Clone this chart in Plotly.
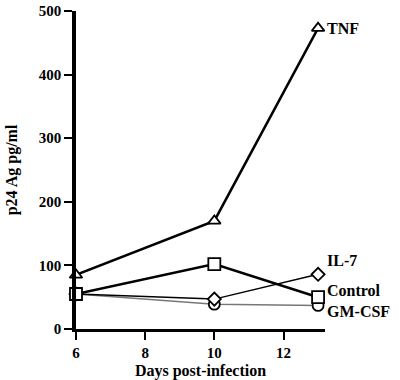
import plotly.graph_objects as go

days = [6, 10, 13]
tnf = [85, 170, 473]
control = [55, 102, 50]
il7 = [55, 47, 86]
gmcsf = [55, 39, 37]
y_ticks = [0, 100, 200, 300, 400, 500]
x_ticks = [6, 8, 10, 12]

fig = go.Figure()

def add(y, sym, lw, color, size=11):
    fig.add_trace(go.Scatter(
        x=days, y=y, mode="lines+markers",
        line=dict(color=color, width=lw),
        marker=dict(symbol=sym, size=size, color="white",
                    line=dict(color="black", width=1.8)),
        cliponaxis=False, showlegend=False))

add(gmcsf, "circle", 1.5, "#777777", 11)
add(il7, "diamond", 1.5, "black", 10)
add(tnf, "triangle-up", 2.5, "black", 11)
add(control, "square", 2.5, "black", 12)

fam = "Liberation Serif, Times New Roman, serif"
font = dict(family=fam, size=16, color="black")
tickfont = dict(family=fam, size=15, color="black")
labels = [("TNF", 473), ("IL-7", 107), ("Control", 61), ("GM-CSF", 27)]
for t, yv in labels:
    fig.add_annotation(x=13, y=yv, text="<b>%s</b>" % t, showarrow=False,
                       xanchor="left", xshift=7, font=font)

fig.update_layout(
    width=400, height=380,
    margin=dict(l=76, r=75, t=11, b=51, autoexpand=False),
    paper_bgcolor="white", plot_bgcolor="white",
    font=font,
    xaxis=dict(range=[6, 13.2], tickvals=x_ticks, ticktext=["<b>%d</b>" % v for v in x_ticks],
               automargin=False, tickfont=tickfont, ticklabeloverflow="allow",
               showgrid=False, zeroline=False, showline=True, linecolor="black", linewidth=3,
               ticks="outside", ticklen=8, tickwidth=2, tickcolor="black",
               title=dict(text="<b>Days post-infection</b>", font=font, standoff=6)),
    yaxis=dict(range=[0, 500], tickvals=y_ticks, ticktext=["<b>%d</b>" % v for v in y_ticks],
               automargin=False, tickfont=tickfont, ticklabeloverflow="allow",
               showgrid=False, zeroline=False, showline=True, linecolor="black", linewidth=3.5,
               ticks="outside", ticklen=8, tickwidth=2, tickcolor="black",
               title=dict(text="<b>p24 Ag pg/ml</b>", font=font, standoff=18)),
)

fig.write_html("out.html", config={"displayModeBar": False},
               post_script="document.body.style.margin='0';")
